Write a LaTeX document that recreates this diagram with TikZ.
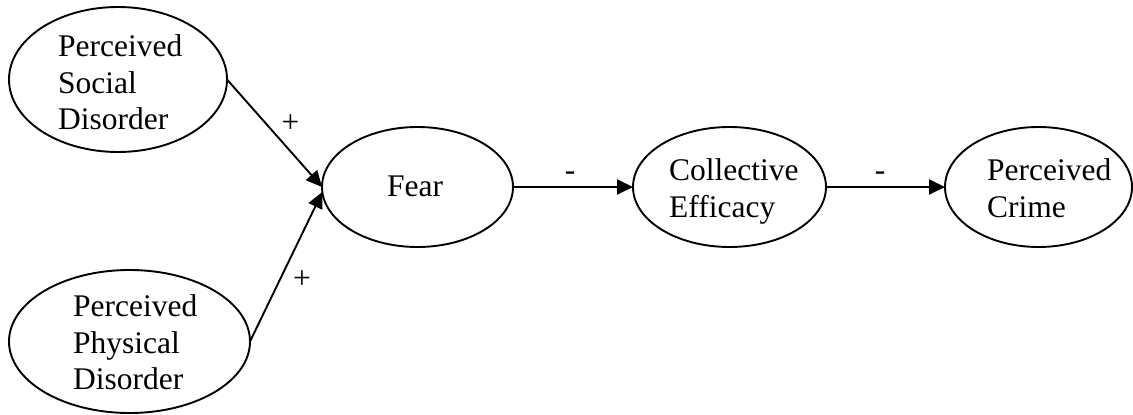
\documentclass[tikz,border=0pt]{standalone}
\usepackage{fontspec}
\setmainfont{Liberation Serif}
\usetikzlibrary{arrows.meta,shapes.geometric}
\begin{document}
\begin{tikzpicture}[x=1pt,y=-1pt,
  oval/.style={draw, ellipse, line width=1.9pt, inner sep=0pt, outer sep=0pt},
  txt/.style={anchor=base west, inner sep=0pt, font=\fontsize{31.5}{36.5}\selectfont},
  sign/.style={anchor=base, inner sep=0pt, font=\fontsize{31.5}{36.5}\selectfont},
  link/.style={line width=1.9pt, -{Triangle[length=16pt,width=15pt]}}]
\useasboundingbox (0,0) rectangle (1133,415);

% latent constructs
\node[oval, minimum width=218pt, minimum height=145pt] (sd)   at (118,79.5)    {};
\node[oval, minimum width=241pt, minimum height=143pt] (ppd)  at (129.5,341.5) {};
\node[oval, minimum width=191pt, minimum height=120pt] (fear) at (417.5,187)   {};
\node[oval, minimum width=193pt, minimum height=120pt] (ce)   at (729.5,187)   {};
\node[oval, minimum width=187pt, minimum height=120pt] (pc)   at (1038.5,187)  {};

% construct names
\node[txt] (sdtext)   at (58,56.7)   {\begin{tabular}[t]{@{}l@{}}Perceived\\Social\\Disorder\end{tabular}};
\node[txt] (ppdtext)  at (73,316.7)  {\begin{tabular}[t]{@{}l@{}}Perceived\\Physical\\Disorder\end{tabular}};
\node[txt] (feartext) at (387,196.7) {Fear};
\node[txt] (cetext)   at (669,180.7) {\begin{tabular}[t]{@{}l@{}}Collective\\Efficacy\end{tabular}};
\node[txt] (pctext)   at (987,180.7) {\begin{tabular}[t]{@{}l@{}}Perceived\\Crime\end{tabular}};

% paths
\draw[link] (sd.east)  -- (fear.west);
\draw[link] (ppd.east) -- (fear.183);
\draw[link] (fear.east) -- (ce.west);
\draw[link] (ce.east)  -- (pc.west);

% signs of the effects
\node[sign] (s1) at (290.5,132.5) {+};
\node[sign] (s2) at (302,288)     {+};
\node[sign] (s3) at (570,180)     {-};
\node[sign] (s4) at (880,180)     {-};
\end{tikzpicture}
\end{document}
